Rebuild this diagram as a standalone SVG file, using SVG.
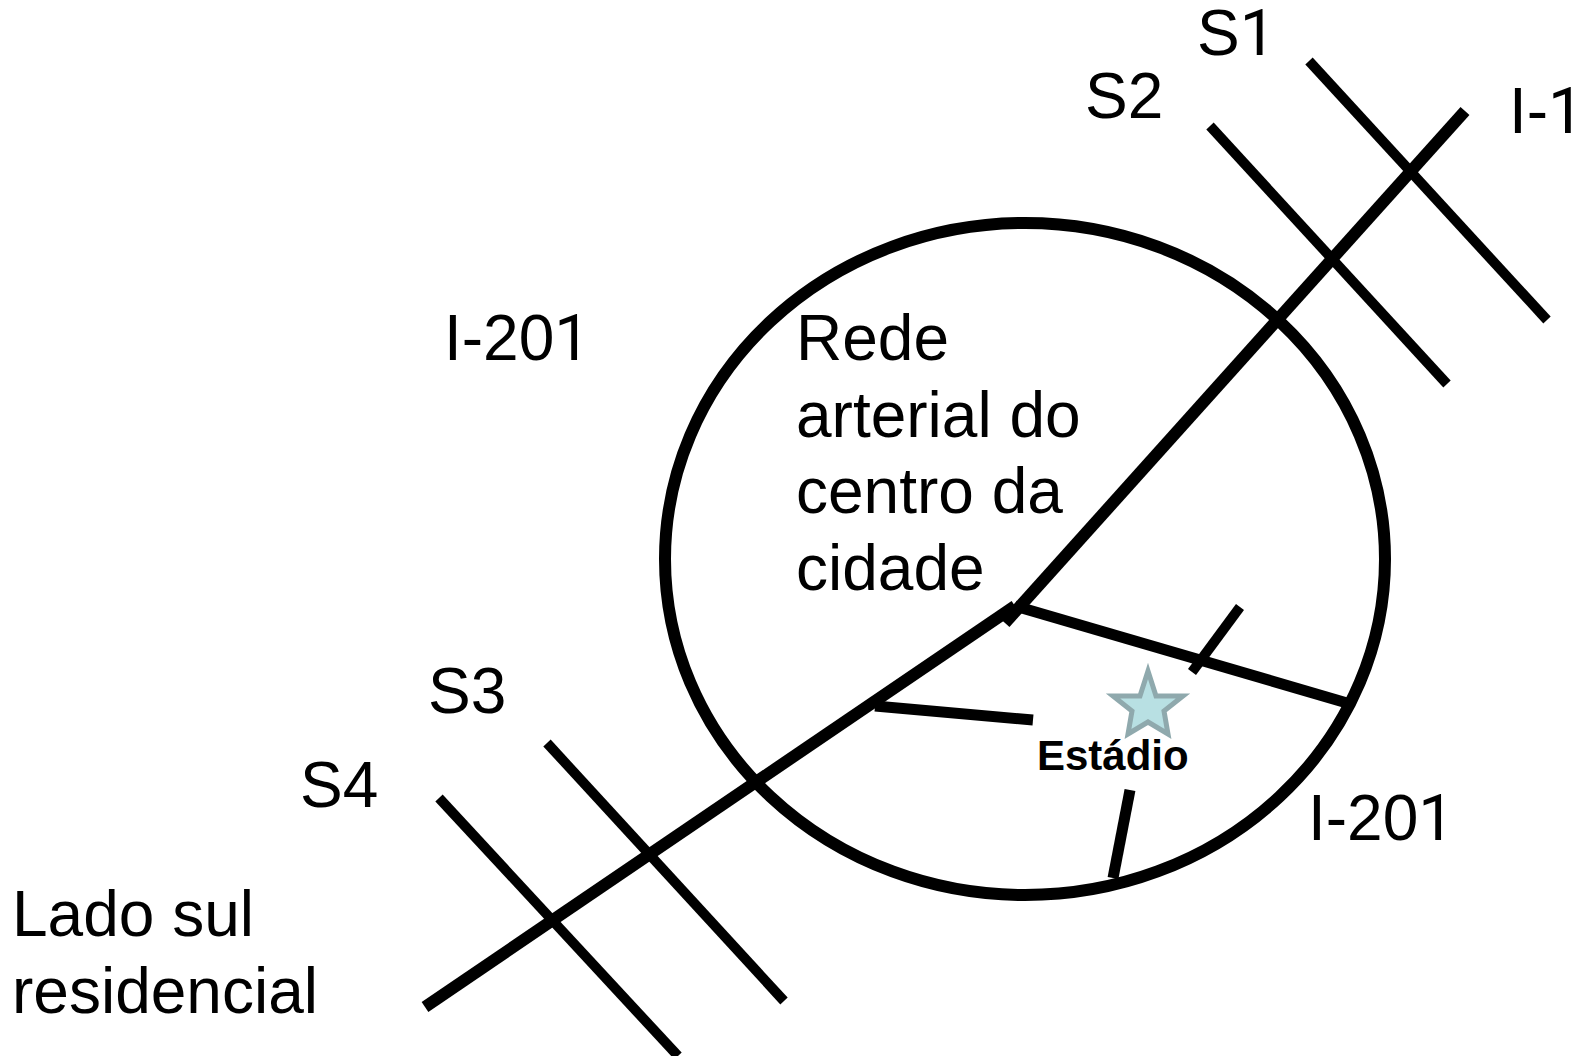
<svg xmlns="http://www.w3.org/2000/svg" width="1577" height="1056" viewBox="0 0 1577 1056">
<style>
.r{fill:none;stroke:#000;stroke-width:10}
.m{stroke-width:12}
.t{font-family:"Liberation Sans",Arial,sans-serif;font-size:64px;fill:#000}
.d{font-family:Roboto,"Liberation Sans",sans-serif}
</style>
<rect width="1577" height="1056" fill="#fff"/>
<g id="connectors">
<ellipse id="ring" class="r" cx="1025" cy="559" rx="360" ry="336" style="stroke-width:12"/>
<path class="r" d="M1309 61L1547 320"/>
<path class="r" d="M1210 126L1447 384"/>
<path class="r" d="M547 743L784 1001"/>
<path class="r" d="M439 798L678 1056"/>
<path class="r m" d="M1465 111L1005 623"/>
<path class="r m" d="M1015 606L425 1007"/>
<path class="r" d="M1015 606L1347 703" style="stroke-width:11"/>
<path class="r" d="M1240 607L1192 672"/>
<path class="r" d="M875 706L1033 720" style="stroke-width:11"/>
<path class="r" d="M1130 790L1113 878" style="stroke-width:11"/>
</g>
<g id="star"><polygon points="1148,671 1156,696 1183,696 1164,711 1168,734 1148,722 1128,734 1132,711 1113,696 1140,696" fill="#b8e0e3" stroke="#8fa9ad" stroke-width="5"/></g>
<g id="labels">
<text class="t" x="1197" y="55">S<tspan class="d">1</tspan></text>
<text class="t" x="1085" y="118">S2</text>
<text class="t" x="1509" y="133">I-<tspan class="d">1</tspan></text>
<text class="t" x="444" y="360">I-20<tspan class="d">1</tspan></text>
<text class="t" x="796" y="360">Rede</text>
<text class="t" x="796" y="437">arterial do</text>
<text class="t" x="796" y="513">centro da</text>
<text class="t" x="796" y="590">cidade</text>
<text class="t" x="428" y="713">S3</text>
<text class="t" x="300" y="807">S4</text>
<text class="t" x="1308" y="840">I-20<tspan class="d">1</tspan></text>
<text class="t" x="12" y="936">Lado sul</text>
<text class="t" x="12" y="1013">residencial</text>
<text x="1037" y="770" font-family="Liberation Sans,Arial,sans-serif" font-size="42" font-weight="700" fill="#000">Estádio</text>
</g>
</svg>
